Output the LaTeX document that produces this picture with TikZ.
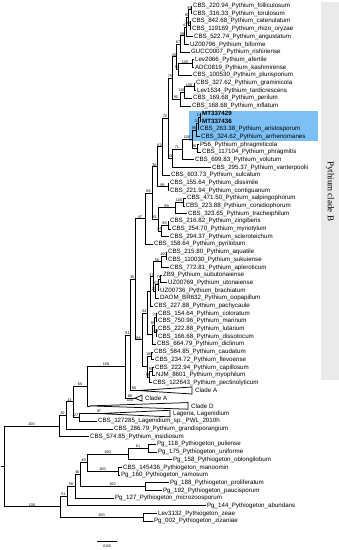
\documentclass[tikz,border=0pt]{standalone}
\usepackage{fontspec}
\setmainfont{Liberation Sans}
\newfontfamily\cladeserif{Liberation Serif}
\definecolor{hlblue}{RGB}{125,192,245}
\definecolor{bargray}{RGB}{234,234,234}
\begin{document}
\begin{tikzpicture}[x=1pt,y=-1pt,
  br/.style={line width=0.75pt, line cap=rect, line join=miter},
  tip/.style={anchor=west, inner xsep=0.9pt, inner ysep=0pt, font=\fontsize{6.2}{7}\selectfont},
  bs/.style={anchor=south, inner sep=0.2pt, yshift=0.2pt, font=\fontsize{3.8}{4}\selectfont},
  tri/.style={line width=0.75pt, fill=white, line join=miter}]
\useasboundingbox (0,0) rectangle (339,550);
% background bar and highlight
\fill[bargray] (321,2) rectangle (339,380);
\node[rotate=-90, inner sep=0pt, font=\cladeserif\fontsize{9}{10}\selectfont] (cladeB) at (330,191) {Pythium clade B};
\fill[hlblue] (189,110.5) rectangle (318,140.5);
% tips
\node[tip] (r1) at (192,6.00) {CBS\_220.94\_Pythium\_folliculosum};
\node[tip] (r2) at (192,13.69) {CBS\_316.33\_Pythium\_torulosum};
\node[tip] (r3) at (191,21.38) {CBS\_842.68\_Pythium\_catenulatum};
\node[tip] (r4) at (191,29.07) {CBS\_119169\_Pythium\_rhizo\_oryzae};
\node[tip] (r5) at (193,36.76) {CBS\_522.74\_Pythium\_angustatum};
\node[tip] (r6) at (189,44.45) {UZ00796\_Pythium\_biforme};
\node[tip] (r7) at (190,52.14) {GUCC0007\_Pythium\_rishiriense};
\node[tip] (r8) at (194,59.83) {Lev2066\_Pythium\_afertile};
\node[tip] (r9) at (194,67.52) {ADC0819\_Pythium\_kashmirense};
\node[tip] (r10) at (192,75.21) {CBS\_100530\_Pythium\_plurisporium};
\node[tip] (r11) at (195,82.90) {CBS\_327.62\_Pythium\_graminicola};
\node[tip] (r12) at (196,90.59) {Lev1534\_Pythium\_tardicrescens};
\node[tip] (r13) at (192,98.28) {CBS\_169.68\_Pythium\_perilum};
\node[tip] (r14) at (191,105.97) {CBS\_168.68\_Pythium\_inflatum};
\node[tip] (r15) at (201,113.66) {\bfseries MT337429};
\node[tip] (r16) at (201,121.35) {\bfseries MT337436};
\node[tip] (r17) at (199,129.04) {CBS\_263.38\_Pythium\_aristosporum};
\node[tip] (r18) at (200,136.73) {CBS\_324.62\_Pythium\_arrhenomanes};
\node[tip] (r19) at (199,144.42) {P56\_Pythium\_phragmiticola};
\node[tip] (r20) at (201,152.11) {CBS\_117104\_Pythium\_phragmitis};
\node[tip] (r21) at (194,159.80) {CBS\_699.83\_Pythium\_volutum};
\node[tip] (r22) at (211,167.49) {CBS\_295.37\_Pythium\_vanterpoolii};
\node[tip] (r23) at (170,175.18) {CBS\_603.73\_Pythium\_sulcatum};
\node[tip] (r24) at (169,182.87) {CBS\_155.64\_Pythium\_dissimile};
\node[tip] (r25) at (169,190.56) {CBS\_221.94\_Pythium\_contiguanum};
\node[tip] (r26) at (186,198.25) {CBS\_471.50\_Pythium\_salpingophorum};
\node[tip] (r27) at (184.5,205.94) {CBS\_223.88\_Pythium\_conidiophorum};
\node[tip] (r28) at (187,213.63) {CBS\_323.65\_Pythium\_tracheiphilum};
\node[tip] (r29) at (169,221.32) {CBS\_216.82\_Pythium\_zingiberis};
\node[tip] (r30) at (171,229.01) {CBS\_254.70\_Pythium\_myriotylum};
\node[tip] (r31) at (169,236.70) {CBS\_294.37\_Pythium\_scleroteichum};
\node[tip] (r32) at (153,244.39) {CBS\_158.64\_Pythium\_pyrilobum};
\node[tip] (r33) at (167,252.08) {CBS\_215.80\_Pythium\_aquatile};
\node[tip] (r34) at (167,259.77) {CBS\_110030\_Pythium\_sukuiense};
\node[tip] (r35) at (169,267.46) {CBS\_772.81\_Pythium\_apleroticum};
\node[tip] (r36) at (162,275.15) {ZB9\_Pythium\_subutonaiense};
\node[tip] (r37) at (167,282.84) {UZ00769\_Pythium\_utonaiense};
\node[tip] (r38) at (159,290.53) {UZ00736\_Pythium\_brachiatum};
\node[tip] (r39) at (159,298.22) {DAOM\_BR632\_Pythium\_oopapillum};
\node[tip] (r40) at (153,305.91) {CBS\_227.88\_Pythium\_pachycaule};
\node[tip] (r41) at (157,313.60) {CBS\_154.64\_Pythium\_coloratum};
\node[tip] (r42) at (157,321.29) {CBS\_750.96\_Pythium\_marinum};
\node[tip] (r43) at (157,328.98) {CBS\_222.88\_Pythium\_lutarium};
\node[tip] (r44) at (157,336.67) {CBS\_166.68\_Pythium\_dissotocum};
\node[tip] (r45) at (156,344.36) {CBS\_664.79\_Pythium\_diclinum};
\node[tip] (r46) at (153,352.05) {CBS\_584.85\_Pythium\_caudatum};
\node[tip] (r47) at (154,359.74) {CBS\_234.72\_Pythium\_flevoense};
\node[tip] (r48) at (154,367.43) {CBS\_222.94\_Pythium\_capillosum};
\node[tip] (r49) at (155,375.12) {NJM\_8601\_Pythium\_myophilum};
\node[tip] (r50) at (152,382.81) {CBS\_122643\_Pythium\_pectinolyticum};
\node[tip] (r55) at (97,421.26) {CBS\_127285\_Lagenidium\_sp.\_PWL\_2010h};
\node[tip] (r56) at (113,428.95) {CBS\_286.79\_Pythium\_grandisporangium};
\node[tip] (r57) at (89,436.64) {CBS\_574.85\_Pythium\_insidiosum};
\node[tip] (r58) at (156,444.33) {Pg\_118\_Pythiogeton\_puliense};
\node[tip] (r59) at (157,452.02) {Pg\_175\_Pythiogeton\_uniforme};
\node[tip] (r60) at (172,459.71) {Pg\_158\_Pythiogeton\_oblongilobum};
\node[tip] (r61) at (122,467.40) {CBS\_145436\_Pythiogeton\_manoomin};
\node[tip] (r62) at (120,475.09) {Pg\_160\_Pythiogeton\_ramosum};
\node[tip] (r63) at (169,482.78) {Pg\_188\_Pythiogeton\_proliferatum};
\node[tip] (r64) at (162,490.47) {Pg\_192\_Pythiogeton\_paucisporum};
\node[tip] (r65) at (114,498.16) {Pg\_127\_Pythiogeton\_microzoosporum};
\node[tip] (r66) at (206,505.85) {Pg\_144\_Pythiogeton\_abundans};
\node[tip] (r67) at (157,513.54) {Lev3132\_Pythiogeton\_zeae};
\node[tip] (r68) at (153,521.23) {Pg\_002\_Pythiogeton\_zizaniae};
% internal nodes
\foreach \n/\x/\y in {A1/191/9.845, A3/190/25.225, A2/188/17.535, A4/186/27.15, A5/184/35.8,
  A6/180/43.97, B0/192/63.675, B1/178/69.44, A7/176/56.71, C1/194/86.745, C2/184/92.51,
  C3/180/99.24, A8/172/77.98, E1/200/117.5, E2/198/123.27, E3/196/130.0, G/197/148.27,
  F/192/139.13, H/182/149.47, I/172/158.48, n70/168/118.23, K/162/146.7, M/168/186.72,
  L/157/166.71, N1/183/202.1, N2/175/207.86, N3/168/225.17, N4/161/230.93, N/158/219.4,
  n66/152/193.05, n47/145/218.72, R1/166/255.93, R2/161/261.7, S/160/279.0, T1/158/284.77,
  T2/155/291.5, R3/153/276.6, R4/150/291.26, g1/156/317.45, g2/156/332.83, g3/154/325.14,
  g4/152/334.75, n64/147/313.0, h1/151.5/355.9, h2/152/371.28, h3/149/377.05, h4/147/366.47,
  W/142/339.74, Q/135/279.23, n81/130/334.87, N100/125/366.53, T65/87/386.2, T27/79/417.42,
  T13/73/401.81, T20/66/415.38, X0/59/426.01, p61/148/448.18, pA/128/453.94, pB/118/471.25,
  p49/87/462.6, pC/145/486.63, p46/80/474.6, p59/75/486.38, p51/67/496.12, pD/143/517.39,
  P0/60/506.75, root/4/466.38, rstub/1/466.38, tA/138/390.5, tA2/135/398.19, tD/90/405.88,
  tL/100/413.57}
  \coordinate (\n) at (\x,\y);
% branches
\foreach \p/\c in {A1/r1.west, A1/r2.west, A3/r3.west, A3/r4.west, A2/A1, A2/A3, A4/A2, A4/r5.west,
  A5/A4, A5/r6.west, A6/A5, A6/r7.west, B0/r8.west, B0/r9.west, B1/B0, B1/r10.west, A7/A6, A7/B1,
  C1/r11.west, C1/r12.west, C2/C1, C2/r13.west, C3/C2, C3/r14.west, A8/A7, A8/C3,
  E1/r15.west, E1/r16.west, E2/E1, E2/r17.west, E3/E2, E3/r18.west, G/r19.west, G/r20.west,
  F/E3, F/G, H/F, H/r21.west, I/H, I/r22.west, n70/A8, n70/I, K/n70, K/r23.west,
  M/r24.west, M/r25.west, L/K, L/M, N1/r26.west, N1/r27.west, N2/N1, N2/r28.west,
  N3/r29.west, N3/r30.west, N4/N3, N4/r31.west, N/N2, N/N4, n66/L, n66/N, n47/n66, n47/r32.west,
  R1/r33.west, R1/r34.west, R2/R1, R2/r35.west, S/r36.west, S/r37.west, T1/S, T1/r38.west,
  T2/T1, T2/r39.west, R3/R2, R3/T2, R4/R3, R4/r40.west, g1/r41.west, g1/r42.west,
  g2/r43.west, g2/r44.west, g3/g1, g3/g2, g4/g3, g4/r45.west, n64/R4, n64/g4,
  h1/r46.west, h1/r47.west, h2/r48.west, h2/r49.west, h3/h2, h3/r50.west, h4/h1, h4/h3,
  W/n64, W/h4, Q/n47, Q/W, n81/Q, n81/tA, N100/n81, N100/tA2, T65/N100, T65/tD,
  T27/tL, T27/r55.west, T13/T65, T13/T27, T20/T13, T20/r56.west, X0/T20, X0/r57.west,
  p61/r58.west, p61/r59.west, pA/p61, pA/r60.west, pB/r61.west, pB/r62.west, p49/pA, p49/pB,
  pC/r63.west, pC/r64.west, p46/p49, p46/pC, p59/p46, p59/r65.west, p51/p59, p51/r66.west,
  pD/r67.west, pD/r68.west, P0/p51, P0/pD, root/X0, root/P0}
  \draw[br] (\p) |- (\c);
\draw[br] (rstub) -- (root);
% collapsed clades
\draw[tri] (tA) -- ++(54,-3.5) -- ++(0,7) -- cycle;
\draw[tri] (tA2) -- ++(7,-3) -- ++(0,6) -- cycle;
\draw[tri] (tD) -- ++(98,-3.3) -- ++(0,6.6) -- cycle;
\draw[tri] (tL) -- ++(70,-3.3) -- ++(0,6.6) -- cycle;
\node[tip] (cA) at (194,390.5) {Clade A};
\node[tip] (cA2) at (144,398.19) {Clade A};
\node[tip] (cD) at (190,405.88) {Clade D};
\node[tip] (cL) at (172,413.57) {Lagena, Lagenidium};
% support values
\foreach \i/\x/\y/\t in {1/189.5/9.845/99, 2/189/25.225/96, 3/187/17.535/90, 4/185/27.15/41,
  5/182/35.8/39, 6/178/43.97/67, 7/174/56.71/40, 8/185/63.675/100, 9/177/69.44/94,
  10/189/86.745/100, 11/182/92.51/100, 12/176/99.24/90, 13/170/77.98/75, 14/199/117.5/14,
  15/197/123.27/27, 16/194/130.0/95, 17/194.5/148.27/96, 18/187/139.13/100, 19/177/149.47/71,
  20/170/158.48/83, 21/165/118.23/70, 22/159.5/146.7/63, 23/162.5/186.72/99, 24/154.5/166.71/36,
  25/179/202.1/100, 26/166.5/207.86/99, 27/164.5/225.17/96, 28/159.5/230.93/99, 29/155/219.4/51,
  30/148.5/193.05/66, 31/140/218.72/47, 32/163.5/255.93/100, 33/157/261.7/56, 34/159/279.0/76,
  35/156.5/284.77/62, 36/154/291.5/27, 37/151.5/276.6/47, 38/155/317.45/77, 39/155/332.83/100,
  40/153/325.14/99, 41/144.5/313.0/64, 42/149.25/355.9/100, 43/150.5/371.28/76, 44/148/377.05/95,
  45/138.5/339.74/88, 46/132.5/279.23/45, 47/127.5/334.87/81, 48/134/390.5/80, 49/130/398.19/98,
  51/106/366.53/100, 52/80/386.2/65, 53/99/413.57/97, 54/76/417.42/27, 55/69.5/401.81/13,
  56/62.5/415.38/20, 57/31.5/426.01/100, 58/138/448.18/61, 59/107.5/453.94/100,
  60/102.5/471.25/100, 61/83.5/462.6/49, 62/112.5/486.63/100, 63/77.5/474.6/46,
  64/71/486.38/59, 65/63.5/496.12/51, 66/101.5/517.39/100, 67/32/506.75/100}
  \node[bs] (bs\i) at (\x,\y) {\t};
\node[bs, anchor=north, yshift=-0.6pt] (bs50) at (130,398.19) {100};
% scale bar
\coordinate (sb1) at (97,541);
\coordinate (sb2) at (117,541);
\draw[line width=0.6pt] (sb1) -- (sb2);
\node[inner sep=0pt, font=\fontsize{3.8}{4}\selectfont] (sbl) at (107,546) {0.08};
\end{tikzpicture}
\end{document}
